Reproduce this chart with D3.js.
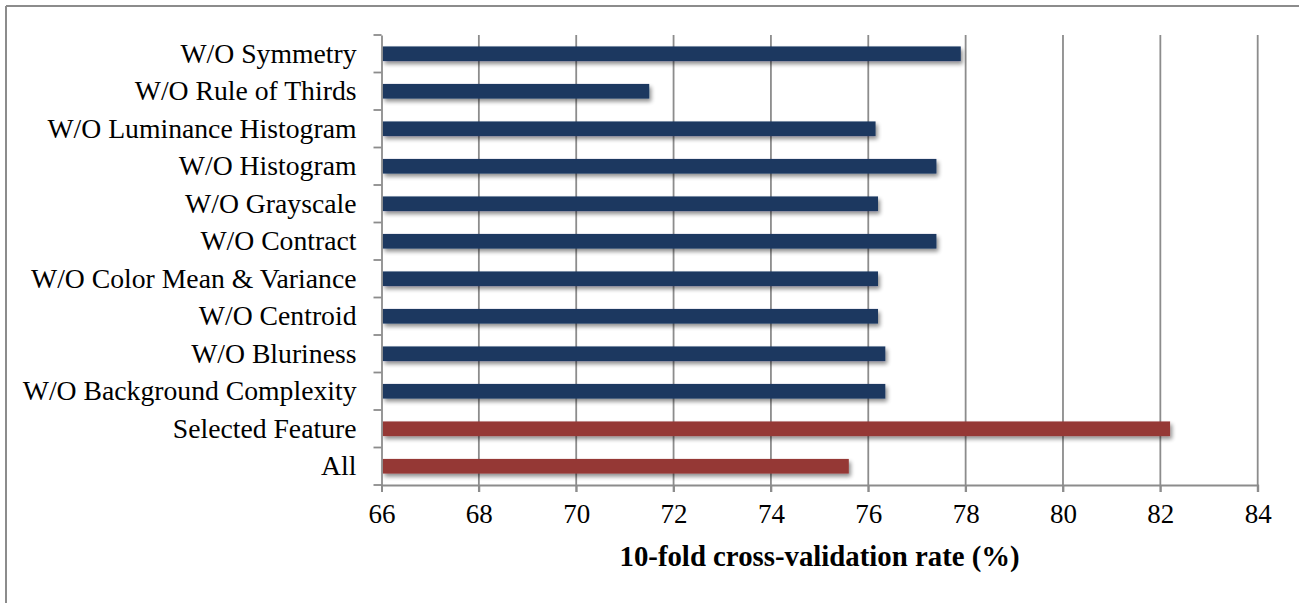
<!DOCTYPE html>
<html>
<head>
<meta charset="utf-8">
<script src="https://cdn.jsdelivr.net/npm/d3@7"></script>
<style>
  html, body { margin: 0; padding: 0; background: #fff; }
  svg { display: block; }
</style>
</head>
<body>
<svg id="chart" width="1299" height="603"></svg>
<script>
const categories = [
  "W/O Symmetry",
  "W/O Rule of Thirds",
  "W/O Luminance Histogram",
  "W/O Histogram",
  "W/O Grayscale",
  "W/O Contract",
  "W/O Color Mean & Variance",
  "W/O Centroid",
  "W/O Bluriness",
  "W/O Background Complexity",
  "Selected Feature",
  "All"
];
const values = [77.9, 71.5, 76.15, 77.4, 76.2, 77.4, 76.2, 76.2, 76.35, 76.35, 82.2, 75.6];
const groups = ["without","without","without","without","without","without","without","without","without","without","highlight","highlight"];
const xTicks = [66, 68, 70, 72, 74, 76, 78, 80, 82, 84];
const xTitle = "10-fold cross-validation rate (%)";

const colors = { without: "#1a3760", highlight: "#953735" };
const gridColor = "#8c8c8c";
const fontFam = "'Liberation Serif', 'DejaVu Serif', serif";

const svg = d3.select("#chart");
const W = 1299, H = 603;
const margin = { left: 381.5, right: W - 1257.7, top: 35, bottom: H - 485 };

// outer frame (top + left visible)
svg.append("line").attr("x1", 6).attr("x2", W).attr("y1", 6).attr("y2", 6)
  .attr("stroke", gridColor).attr("stroke-width", 2);
svg.append("line").attr("x1", 6).attr("x2", 6).attr("y1", 6).attr("y2", H)
  .attr("stroke", gridColor).attr("stroke-width", 2);

const defs = svg.append("defs");
const f = defs.append("filter").attr("id", "shadow")
  .attr("x", "-5%").attr("y", "-50%").attr("width", "110%").attr("height", "250%");
f.append("feGaussianBlur").attr("in", "SourceAlpha").attr("stdDeviation", 2).attr("result", "b");
f.append("feOffset").attr("in", "b").attr("dx", 2).attr("dy", 3).attr("result", "o");
f.append("feComponentTransfer").attr("in", "o").attr("result", "oa")
  .append("feFuncA").attr("type", "linear").attr("slope", 0.45);
const m = f.append("feMerge");
m.append("feMergeNode").attr("in", "oa");
m.append("feMergeNode").attr("in", "SourceGraphic");

const x = d3.scaleLinear().domain([66, 84]).range([margin.left, W - margin.right]);
const y = d3.scaleBand().domain(categories).range([margin.top, H - margin.bottom]).paddingInner(0.61).paddingOuter(0.305);
const yb = d3.scaleBand().domain(categories).range([margin.top, H - margin.bottom]);

// gridlines
svg.append("g").selectAll("line").data(xTicks.slice(1)).join("line")
  .attr("x1", d => x(d)).attr("x2", d => x(d))
  .attr("y1", margin.top).attr("y2", H - margin.bottom + 7)
  .attr("stroke", gridColor).attr("stroke-width", 1.8);

// bars
svg.append("g").selectAll("rect").data(categories).join("rect")
  .attr("x", x(66) + 1)
  .attr("y", d => y(d))
  .attr("width", (d, i) => x(values[i]) - x(66) - 1)
  .attr("height", y.bandwidth())
  .attr("fill", (d, i) => colors[groups[i]])
  .attr("filter", "url(#shadow)");

// x axis
const xAxis = d3.axisBottom(x).tickValues(xTicks).tickSize(7).tickPadding(12).tickFormat(d3.format("d"));
const gx = svg.append("g").attr("transform", `translate(0,${H - margin.bottom})`).call(xAxis);
gx.select(".domain").attr("stroke", gridColor).attr("stroke-width", 1.8);
gx.selectAll(".tick line").attr("stroke", gridColor).attr("stroke-width", 1.8);
gx.selectAll(".tick text").attr("font-family", fontFam).attr("font-size", 27).attr("fill", "#000");

// y axis
const yAxis = d3.axisLeft(yb).tickSize(0).tickPadding(25);
const gy = svg.append("g").attr("transform", `translate(${margin.left},0)`).call(yAxis);
gy.select(".domain").attr("stroke", gridColor).attr("stroke-width", 1.8);
gy.selectAll(".tick text").attr("font-family", fontFam).attr("font-size", 27.7).attr("fill", "#000");

// y minor ticks at band boundaries
const bounds = categories.map(c => yb(c)).concat([H - margin.bottom]);
svg.append("g").selectAll("line").data(bounds).join("line")
  .attr("x1", margin.left - 8).attr("x2", margin.left)
  .attr("y1", d => d).attr("y2", d => d)
  .attr("stroke", gridColor).attr("stroke-width", 1.8);

// x title
svg.append("text")
  .attr("x", (x(66) + x(84)) / 2).attr("y", 566)
  .attr("text-anchor", "middle")
  .attr("font-family", fontFam).attr("font-size", 28.8).attr("font-weight", "bold")
  .text(xTitle);
</script>
</body>
</html>
